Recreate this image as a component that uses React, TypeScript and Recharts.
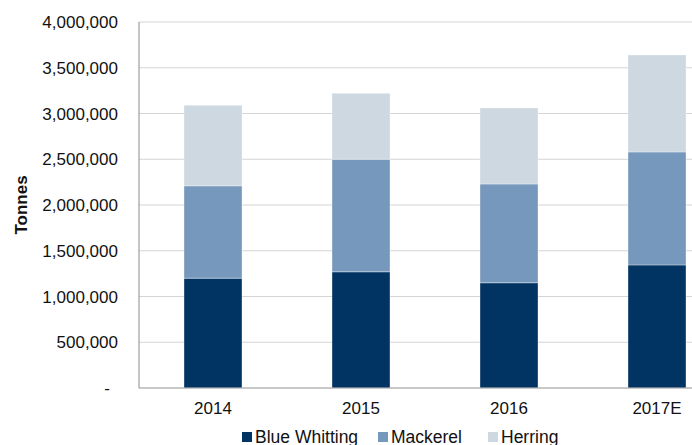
import React from 'react';
import { BarChart, Bar, XAxis, YAxis, CartesianGrid, Legend, Label } from 'recharts';

const years = ['2014', '2015', '2016', '2017E'];
const blueWhitting = [1200000, 1270000, 1150000, 1345000];
const mackerel = [1010000, 1230000, 1080000, 1235000];
const herring = [880000, 720000, 830000, 1060000];
const yTicks = [0, 500000, 1000000, 1500000, 2000000, 2500000, 3000000, 3500000, 4000000];

const seriesInfo = [
  { key: 'blue', name: 'Blue Whitting', color: '#023463' },
  { key: 'mackerel', name: 'Mackerel', color: '#7698BC' },
  { key: 'herring', name: 'Herring', color: '#CDD8E0' },
];

const data = years.map((year, i) => ({
  year,
  blue: blueWhitting[i],
  mackerel: mackerel[i],
  herring: herring[i],
}));

const FONT = '"Liberation Sans", Arial, sans-serif';

// Excel style accounting format: zero shows as a dash
const YTick = (props: any) => {
  const { x, y, payload } = props;
  const zero = payload.value === 0;
  return (
    <text x={zero ? x - 8 : x} y={y} dy="0.355em" textAnchor="end" fill="#111" fontSize={17} fontFamily={FONT}>
      {zero ? '-' : payload.value.toLocaleString('en-US')}
    </text>
  );
};

const legendWidths = [136, 110, 100];

const FishLegend = () => (
  <div style={{ height: 27, boxSizing: 'border-box', paddingTop: 10, paddingLeft: 242, display: 'flex', fontFamily: FONT, fontSize: 17.5, lineHeight: '20px', color: '#111', whiteSpace: 'nowrap' }}>
    {seriesInfo.map((s, i) => (
      <div key={s.key} style={{ width: legendWidths[i], display: 'flex', alignItems: 'center' }}>
        <span style={{ display: 'inline-block', width: 10, height: 10, background: s.color, marginRight: 3 }} />
        <span>{s.name}</span>
      </div>
    ))}
  </div>
);

export default function App() {
  return (
    <div style={{ position: 'absolute', left: 0, top: 0, width: 692, height: 445, overflow: 'hidden', background: '#fff' }}>
      <BarChart width={740} height={445} data={data} margin={{ top: 22, right: 9, bottom: 0, left: 0 }}>
        <CartesianGrid vertical={false} stroke="#d4d4d4" strokeWidth={1} />
        <XAxis
          dataKey="year"
          height={30}
          tickSize={0}
          tickMargin={14}
          stroke="#a6a6a6"
          tick={{ fill: '#111', fontSize: 17, fontFamily: FONT }}
        />
        <YAxis
          width={139}
          domain={[0, 4000000]}
          ticks={yTicks}
          interval={0}
          tickLine={false}
          tickSize={0}
          tickMargin={21}
          stroke="#8c8c8c"
          tick={<YTick />}
        >
          <Label
            content={({ viewBox }: any) => {
              const cx = 21;
              const cy = viewBox.y + viewBox.height / 2;
              return (
                <text x={cx} y={cy} transform={`rotate(-90 ${cx} ${cy})`} textAnchor="middle" dominantBaseline="central" fontWeight="bold" fontSize={17} fontFamily={FONT} fill="#111">
                  Tonnes
                </text>
              );
            }}
          />
        </YAxis>
        <Legend verticalAlign="bottom" content={<FishLegend />} />
        {seriesInfo.map((s) => (
          <Bar
            key={s.key}
            dataKey={s.key}
            name={s.name}
            stackId="fish"
            fill={s.color}
            barSize={58}
            stroke="#ffffff"
            strokeOpacity={0.35}
            strokeWidth={1}
            isAnimationActive={false}
          />
        ))}
      </BarChart>
    </div>
  );
}
